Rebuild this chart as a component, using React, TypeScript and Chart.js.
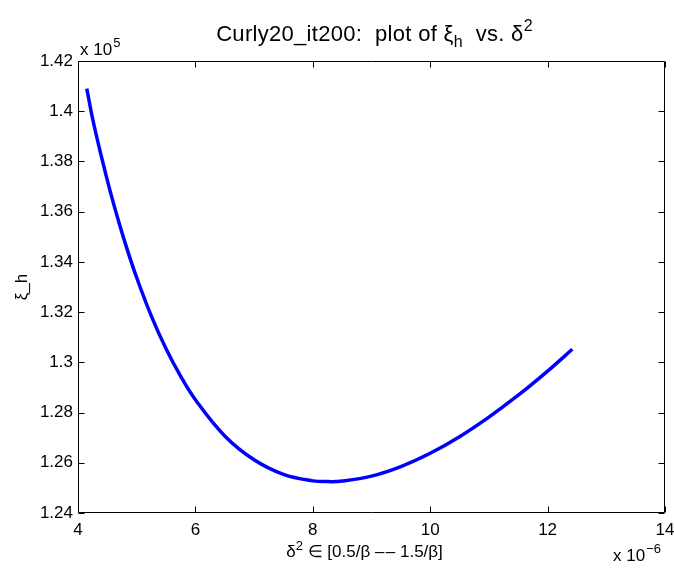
import React, { useEffect, useRef } from "react";
import { Chart, registerables } from "chart.js";

Chart.register(...registerables);

// delta^2 (in units of 1e-6)
const deltaSq: number[] = [
  4.15, 4.25, 4.4, 4.55, 4.7, 4.85, 5.0, 5.25, 5.5, 5.75, 6.0, 6.5, 7.0, 7.5, 8.0,
  8.27, 8.5, 9.0, 9.5, 10.0, 10.5, 11.0, 11.5, 12.0, 12.42,
];
// xi_h (in units of 1e5)
const xiH: number[] = [
  1.409, 1.3969, 1.3818, 1.368, 1.3555, 1.3441, 1.3337, 1.3184, 1.3054, 1.2944,
  1.2851, 1.2707, 1.2612, 1.2554, 1.2528, 1.2525, 1.2527, 1.2547, 1.2585, 1.2638,
  1.2704, 1.2782, 1.2869, 1.2965, 1.3052,
];
const xTicks: number[] = [4, 6, 8, 10, 12, 14];
const yTicks: number[] = [1.24, 1.26, 1.28, 1.3, 1.32, 1.34, 1.36, 1.38, 1.4, 1.42];

const titleMain = "Curly20_it200:  plot of ξ";
const titleSub = "h";
const titleMid = "  vs. δ";
const titleSup = "2";
const xLabelA = "δ";
const xLabelSup = "2";
const xLabelB = " ∈ [0.5/β \u2013\u200A\u2013 1.5/β]";
const yLabel = "ξ_h";
const FONT = "'Liberation Sans', Arial, Helvetica, sans-serif";

const decorPlugin = {
  id: "decor",
  afterDraw(chart: any) {
    const ctx = chart.ctx as CanvasRenderingContext2D;
    const { left, right, top, bottom } = chart.chartArea;
    const xs = chart.scales.x;
    const ys = chart.scales.y;
    ctx.save();
    ctx.strokeStyle = "#000";
    ctx.lineWidth = 1;
    const L = Math.round(left) + 0.5;
    const R = Math.round(right) - 0.5;
    const T = Math.round(top) + 0.5;
    const B = Math.round(bottom) - 0.5;
    ctx.beginPath();
    ctx.rect(L, T, R - L, B - T);
    ctx.stroke();
    const tl = 6;
    ctx.beginPath();
    xTicks.forEach((v) => {
      const px = Math.round(xs.getPixelForValue(v)) + 0.5;
      ctx.moveTo(px, B);
      ctx.lineTo(px, B - tl);
      ctx.moveTo(px, T);
      ctx.lineTo(px, T + tl);
    });
    yTicks.forEach((v) => {
      const py = Math.round(ys.getPixelForValue(v)) + 0.5;
      ctx.moveTo(L, py);
      ctx.lineTo(L + tl, py);
      ctx.moveTo(R, py);
      ctx.lineTo(R - tl, py);
    });
    ctx.stroke();

    ctx.fillStyle = "#000";
    ctx.textBaseline = "alphabetic";
    ctx.textAlign = "left";
    // Title
    const c2 = ctx as any;
    c2.letterSpacing = "0.3px";
    const cx = (left + right) / 2 + 3;
    const big = `22px ${FONT}`;
    const small = `16px ${FONT}`;
    ctx.font = big;
    const w1 = ctx.measureText(titleMain).width;
    const w3 = ctx.measureText(titleMid).width;
    ctx.font = small;
    const w2 = ctx.measureText(titleSub).width;
    const w4 = ctx.measureText(titleSup).width;
    let x0 = cx - (w1 + w2 + w3 + w4) / 2;
    const ty = 41;
    ctx.font = big;
    ctx.fillText(titleMain, x0, ty);
    x0 += w1;
    ctx.font = small;
    ctx.fillText(titleSub, x0, ty + 6);
    x0 += w2;
    ctx.font = big;
    ctx.fillText(titleMid, x0, ty);
    x0 += w3;
    ctx.font = small;
    ctx.fillText(titleSup, x0, ty - 10);
    c2.letterSpacing = "0px";

    // x label
    const mid = `17px ${FONT}`;
    const sm2 = `13px ${FONT}`;
    ctx.font = mid;
    const a = ctx.measureText(xLabelA).width;
    const b = ctx.measureText(xLabelB).width;
    ctx.font = sm2;
    const s = ctx.measureText(xLabelSup).width;
    let lx = (left + right) / 2 - (a + b + s) / 2 - 7;
    const ly = 557;
    ctx.font = mid;
    ctx.fillText(xLabelA, lx, ly);
    lx += a;
    ctx.font = sm2;
    ctx.fillText(xLabelSup, lx, ly - 7);
    lx += s;
    ctx.font = mid;
    ctx.fillText(xLabelB, lx, ly);

    // exponent labels
    ctx.font = mid;
    ctx.fillText("x 10", 80, 55);
    let ew = ctx.measureText("x 10").width;
    ctx.font = sm2;
    ctx.fillText("5", 80 + ew + 1, 47);
    ctx.font = mid;
    ctx.fillText("x 10", 613, 561);
    ew = ctx.measureText("x 10").width;
    ctx.font = sm2;
    ctx.fillText("\u2212" + "6", 613 + ew + 1, 553);

    // y label
    ctx.save();
    ctx.translate(27, (top + bottom) / 2);
    ctx.rotate(-Math.PI / 2);
    ctx.font = mid;
    ctx.textAlign = "center";
    ctx.fillText(yLabel, 0, 0);
    ctx.restore();
    ctx.restore();
  },
};

export default function App() {
  const ref = useRef<HTMLCanvasElement | null>(null);
  useEffect(() => {
    if (!ref.current) return;
    const chart = new Chart(ref.current, {
      type: "line",
      data: {
        datasets: [
          {
            data: deltaSq.map((x, i) => ({ x, y: xiH[i] })),
            borderColor: "#0000ff",
            borderWidth: 3.5,
            pointRadius: 0,
            fill: false,
            tension: 0.4,
          },
        ],
      },
      options: {
        animation: false,
        responsive: false,
        maintainAspectRatio: false,
        layout: { padding: { left: 0, top: 61, right: 9, bottom: 0 } },
        plugins: { legend: { display: false }, tooltip: { enabled: false }, title: { display: false } },
        scales: {
          x: {
            type: "linear",
            min: 4,
            max: 14,
            afterBuildTicks: (scale: any) => {
              scale.ticks = xTicks.map((v) => ({ value: v }));
            },
            afterFit: (scale: any) => {
              scale.height = 55;
              scale.paddingLeft = 0;
              scale.paddingRight = 0;
            },
            grid: { display: false, drawTicks: false },
            border: { display: false },
            ticks: {
              color: "#000",
              padding: 7,
              maxRotation: 0,
              font: { family: FONT, size: 17 },
              callback: (v: any) => String(Number(Number(v).toFixed(2))),
            },
          },
          y: {
            type: "linear",
            min: 1.24,
            max: 1.42,
            afterBuildTicks: (scale: any) => {
              scale.ticks = yTicks.map((v) => ({ value: v }));
            },
            afterFit: (scale: any) => {
              scale.width = 78;
              scale.paddingTop = 0;
              scale.paddingBottom = 0;
            },
            grid: { display: false, drawTicks: false },
            border: { display: false },
            ticks: {
              color: "#000",
              padding: 5,
              font: { family: FONT, size: 17 },
              callback: (v: any) => String(Number(Number(v).toFixed(2))),
            },
          },
        },
      },
      plugins: [decorPlugin],
    } as any);
    return () => chart.destroy();
  }, []);
  return (
    <div style={{ position: "fixed", left: 0, top: 0, width: 674, height: 568, background: "#fff" }}>
      <canvas ref={ref} width={674} height={568} style={{ width: 674, height: 568 }} />
    </div>
  );
}
